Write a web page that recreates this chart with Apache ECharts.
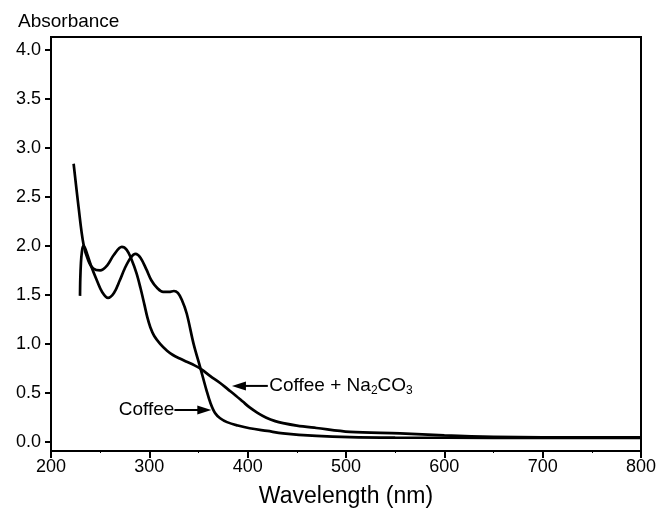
<!DOCTYPE html>
<html>
<head>
<meta charset="utf-8">
<script src="https://cdn.jsdelivr.net/npm/echarts@6/dist/echarts.min.js"></script>
<style>html,body{margin:0;padding:0;background:#fff;}#c{width:661px;height:508px;}</style>
</head>
<body>
<div id="c"></div>
<script>
// Wavelength (nm) / absorbance pairs
const coffeeWl  = [229.5,229.8,230.4,231.3,232.8,234.5,237,241,247,252,258,264,270,275,281,286,291,297,302,308,314,320,325,329,333,338,345,352,358,362,367,372,379,390,402,420,436,470,504,550,650,800];
const coffeeAbs = [1.49,1.67,1.82,1.93,2.00,1.98,1.91,1.79,1.64,1.53,1.47,1.52,1.65,1.77,1.88,1.92,1.88,1.76,1.65,1.57,1.53,1.53,1.54,1.52,1.45,1.31,1.00,0.75,0.53,0.40,0.29,0.24,0.20,0.165,0.137,0.11,0.086,0.06,0.047,0.042,0.04,0.04];
const na2co3Wl  = [223,228,233,238,243,250,257,264,272,277,282,287,291,295,298,301,305,311,318,324,331,338,346,353,362,372,380,388,395,402,410,419,428,436,450,470,504,555,600,650,700,800];
const na2co3Abs = [2.84,2.40,2.02,1.85,1.77,1.75,1.80,1.91,1.99,1.96,1.86,1.72,1.57,1.40,1.27,1.17,1.08,1.00,0.93,0.886,0.85,0.817,0.78,0.74,0.67,0.60,0.535,0.47,0.41,0.35,0.295,0.245,0.21,0.19,0.165,0.14,0.10,0.085,0.065,0.05,0.045,0.045];
const yTicks = [0, 0.5, 1.0, 1.5, 2.0, 2.5, 3.0, 3.5, 4.0];

const FONT = '"Liberation Sans", Arial, Helvetica, sans-serif';
const zip = (a, b) => a.map((v, i) => [v, b[i]]);

const chart = echarts.init(document.getElementById('c'), null, {renderer: 'canvas'});
const lineStyle = {color: '#000', width: 2.7};
chart.setOption({
  animation: false,
  backgroundColor: '#fff',
  title: {text: 'Absorbance', left: 13, top: 7, textStyle: {fontFamily: FONT, fontSize: 19, fontWeight: 'normal', color: '#000'}},
  grid: {left: 51, right: 20, top: 37, bottom: 57, containLabel: false, outerBoundsMode: 'none',
         show: true, borderColor: '#000', borderWidth: 2, backgroundColor: 'transparent'},
  xAxis: {
    type: 'value', min: 200, max: 800, interval: 100,
    name: 'Wavelength (nm)', nameLocation: 'middle', nameGap: 34,
    nameTextStyle: {fontFamily: FONT, fontSize: 23, color: '#000'},
    axisLine: {show: true, onZero: false, lineStyle: {color: '#000', width: 2}},
    axisTick: {show: true, inside: false, length: 7, lineStyle: {color: '#000', width: 2}},
    minorTick: {show: true, splitNumber: 2, length: 2, lineStyle: {color: '#000', width: 1}},
    axisLabel: {fontFamily: FONT, fontSize: 18, color: '#000', margin: 7},
    splitLine: {show: false}
  },
  yAxis: {
    type: 'value', min: -0.095, max: 4.135,
    axisLine: {show: true, onZero: false, lineStyle: {color: '#000', width: 2}},
    axisTick: {show: true, length: 6, customValues: yTicks, lineStyle: {color: '#000', width: 2}},
    axisLabel: {fontFamily: FONT, fontSize: 18, color: '#000', margin: 10, customValues: yTicks, formatter: v => v.toFixed(1)},
    splitLine: {show: false}
  },
  series: [
    {name: 'Coffee', type: 'line', data: zip(coffeeWl, coffeeAbs), showSymbol: false, smooth: 0.35, lineStyle},
    {name: 'Coffee + Na2CO3', type: 'line', data: zip(na2co3Wl, na2co3Abs), showSymbol: false, smooth: 0.35, lineStyle}
  ]
});

// annotations anchored in data space
function px(p) { return chart.convertToPixel({gridIndex: 0}, p); }
function arrow(from, to) {
  const a = px(from), b = px(to);
  const dir = Math.sign(b[0] - a[0]);
  const hl = 14, hw = 4.5;
  return [
    {type: 'line', shape: {x1: a[0], y1: a[1], x2: b[0] - dir * hl * 0.8, y2: b[1]}, style: {stroke: '#000', lineWidth: 2}},
    {type: 'polygon', shape: {points: [[b[0], b[1]], [b[0] - dir * hl, b[1] - hw], [b[0] - dir * hl, b[1] + hw]]}, style: {fill: '#000'}}
  ];
}
const annoY1 = 0.324, annoY2 = 0.57;
const cStart = px([325.5, annoY1]);
const nStart = px([422, annoY2]);
chart.setOption({
  graphic: [
    ...arrow([325.5, annoY1], [363, annoY1]),
    {type: 'text', x: cStart[0], y: cStart[1], style: {text: 'Coffee', font: '19px ' + FONT, fill: '#000', align: 'right', verticalAlign: 'middle'}},
    ...arrow([420.5, annoY2], [384, annoY2]),
    {type: 'text', x: nStart[0], y: nStart[1], style: {
      text: 'Coffee + Na{sub|2}CO{sub|3}', font: '19px ' + FONT, fill: '#000', align: 'left', verticalAlign: 'middle',
      rich: {sub: {fontSize: 12, fontFamily: FONT, fill: '#000', padding: [10, 0, 0, 0]}}
    }}
  ]
});
</script>
</body>
</html>
